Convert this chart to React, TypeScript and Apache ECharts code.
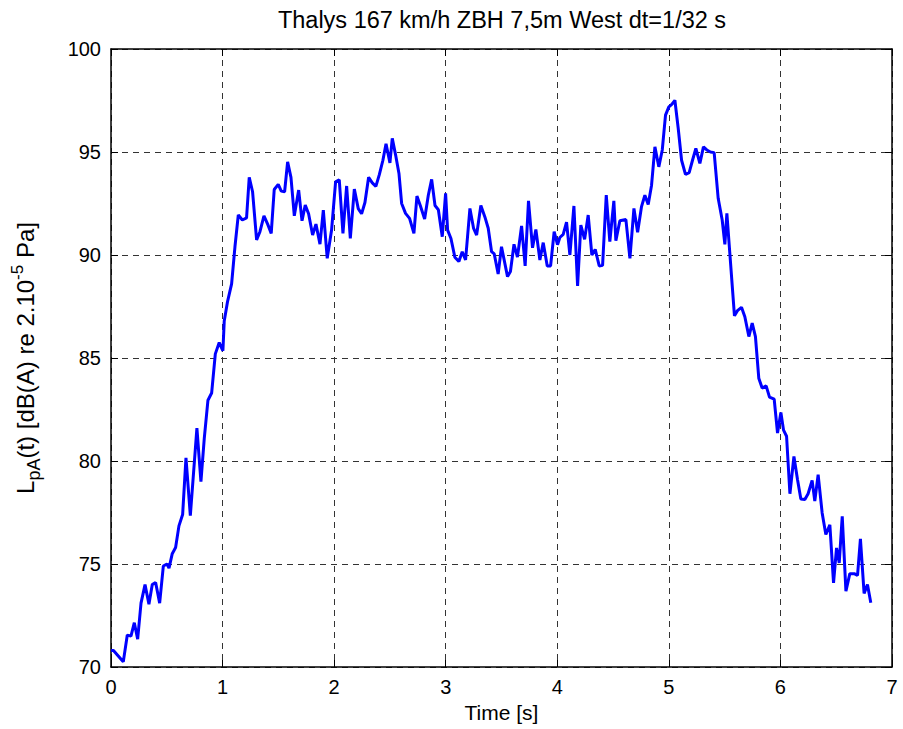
import React, { useEffect, useRef } from "react";
import * as echarts from "echarts";

const chartTitle = "Thalys 167 km/h ZBH 7,5m West dt=1/32 s";
const xName = "Time [s]";
const yNameRich = "{m|L}{s|pA}{m|(t) [dB(A) re 2.10}{p|-5}{m| Pa]}";

// time of each vertex of the trace (s)
const timeS = [
  0.000, 0.022, 0.110, 0.146, 0.179, 0.209, 0.239, 0.269, 0.305, 0.340,
  0.370, 0.400, 0.436, 0.469, 0.502, 0.520, 0.549, 0.579, 0.609, 0.642,
  0.672, 0.711, 0.770, 0.806, 0.836, 0.869, 0.902, 0.935, 0.970, 1.003,
  1.015, 1.045, 1.081, 1.111, 1.141, 1.177, 1.215, 1.239, 1.269, 1.305,
  1.335, 1.371, 1.404, 1.436, 1.463, 1.499, 1.526, 1.556, 1.583, 1.613,
  1.643, 1.682, 1.712, 1.741, 1.771, 1.807, 1.837, 1.873, 1.903, 1.938,
  1.977, 2.013, 2.046, 2.079, 2.112, 2.145, 2.181, 2.216, 2.246, 2.276,
  2.309, 2.342, 2.374, 2.405, 2.437, 2.465, 2.500, 2.521, 2.551, 2.581,
  2.605, 2.640, 2.676, 2.715, 2.742, 2.772, 2.811, 2.844, 2.874, 2.904,
  2.934, 2.969, 2.999, 3.017, 3.047, 3.082, 3.118, 3.148, 3.178, 3.217,
  3.250, 3.277, 3.315, 3.351, 3.381, 3.411, 3.435, 3.470, 3.500, 3.554,
  3.580, 3.612, 3.643, 3.680, 3.712, 3.742, 3.778, 3.808, 3.844, 3.874,
  3.910, 3.940, 3.972, 4.002, 4.023, 4.053, 4.083, 4.113, 4.149, 4.182,
  4.211, 4.245, 4.277, 4.310, 4.340, 4.376, 4.406, 4.439, 4.471, 4.507,
  4.525, 4.561, 4.615, 4.651, 4.687, 4.720, 4.755, 4.785, 4.815, 4.845,
  4.875, 4.910, 4.941, 4.970, 5.000, 5.024, 5.054, 5.084, 5.114, 5.149,
  5.182, 5.212, 5.242, 5.278, 5.310, 5.340, 5.373, 5.406, 5.442, 5.478,
  5.502, 5.520, 5.588, 5.615, 5.651, 5.681, 5.717, 5.747, 5.776, 5.806,
  5.836, 5.872, 5.902, 5.944, 5.974, 6.004, 6.028, 6.055, 6.085, 6.121,
  6.153, 6.183, 6.219, 6.248, 6.284, 6.308, 6.338, 6.374, 6.407, 6.443,
  6.476, 6.503, 6.527, 6.554, 6.587, 6.622, 6.661, 6.691, 6.717, 6.750,
  6.780, 6.810,
];

// LpA(t) in dB(A)
const levelDbA = [
  70.8, 70.8, 70.25, 71.55, 71.5, 72.15, 71.35, 73.1, 74.0, 73.05,
  74.0, 74.1, 73.1, 74.9, 75.0, 74.8, 75.5, 75.8, 76.85, 77.4,
  80.15, 77.35, 81.6, 79.0, 81.1, 82.95, 83.3, 85.2, 85.75, 85.35,
  86.8, 87.75, 88.6, 90.4, 91.95, 91.7, 91.8, 93.77, 93.07, 90.73,
  91.13, 91.9, 91.5, 91.05, 93.18, 93.43, 93.1, 93.07, 94.52, 93.77,
  91.9, 93.15, 91.66, 92.42, 92.0, 90.97, 91.5, 90.53, 92.18, 89.84,
  91.21, 93.55, 93.65, 91.05, 93.35, 90.81, 93.2, 92.25, 92.0, 92.55,
  93.77, 93.5, 93.33, 93.9, 94.6, 95.4, 94.47, 95.66, 94.85, 93.96,
  92.5, 92.02, 91.78, 91.05, 92.86, 92.4, 91.75, 92.9, 93.67, 92.4,
  92.2, 90.89, 92.99, 91.21, 90.8, 89.89, 89.68, 90.16, 89.76, 92.26,
  91.29, 90.97, 92.4, 91.85, 91.3, 90.16, 90.05, 89.08, 90.4, 88.95,
  89.2, 90.52, 89.9, 91.41, 89.47, 92.63, 90.35, 91.24, 89.76, 90.6,
  89.47, 89.47, 91.13, 90.5, 90.85, 91.0, 91.6, 90.0, 92.38, 88.5,
  91.45, 90.76, 91.94, 90.0, 90.27, 89.47, 89.5, 92.91, 90.65, 92.63,
  90.7, 91.66, 91.72, 89.84, 92.26, 91.1, 92.35, 92.9, 92.45, 93.39,
  95.25, 94.28, 95.1, 96.79, 97.19, 97.3, 97.51, 96.14, 94.6, 93.91,
  94.0, 94.6, 95.17, 94.45, 95.25, 95.1, 95.0, 94.97, 92.75, 91.7,
  90.52, 92.02, 87.05, 87.3, 87.46, 87.0, 86.04, 86.69, 86.04, 84.02,
  83.54, 83.65, 83.1, 83.0, 81.36, 82.36, 81.5, 81.2, 78.41, 80.22,
  79.1, 78.16, 78.13, 78.41, 79.06, 78.05, 79.34, 77.48, 76.43, 76.9,
  74.08, 75.78, 75.05, 77.31, 73.68, 74.53, 74.53, 74.45, 76.22, 73.57,
  74.0, 73.12,
];

const xMin = 0, xMax = 7, xStep = 1;
const yMin = 70, yMax = 100, yStep = 5;

export default function App() {
  const ref = useRef<HTMLDivElement>(null);
  useEffect(() => {
    document.body.style.margin = "0";
    const chart = echarts.init(ref.current!, undefined, { renderer: "svg" });
    const font = "'Liberation Sans', Arial, Helvetica, sans-serif";
    const data = timeS.map((t, i) => [t, levelDbA[i]]);
    const frameLine = { onZero: false, lineStyle: { color: "#000", width: 1.5 } };
    const tick = { inside: true, length: 7, lineStyle: { color: "#000", width: 1 } };
    const split = { show: true, lineStyle: { type: [6, 5], color: "#333", width: 1 } };
    chart.setOption({
      animation: false,
      backgroundColor: "#fff",
      textStyle: { fontFamily: font },
      title: {
        text: chartTitle,
        left: 497,
        textAlign: "center",
        top: 3,
        textStyle: { fontSize: 23.5, fontWeight: "normal", color: "#000", fontFamily: font },
      },
      grid: { left: 111, right: 11, top: 49, bottom: 62, outerBoundsMode: "none" },
      xAxis: [
        {
          type: "value", min: xMin, max: xMax, interval: xStep, position: "bottom",
          name: xName, nameLocation: "middle", nameGap: 32,
          nameTextStyle: { fontSize: 21, color: "#000", fontFamily: font },
          axisLine: frameLine, axisTick: tick,
          axisLabel: { fontSize: 20, color: "#000", margin: 10, fontFamily: font },
          splitLine: split,
        },
        {
          type: "value", min: xMin, max: xMax, interval: xStep, position: "top",
          axisLine: frameLine, axisTick: tick, axisLabel: { show: false }, splitLine: { show: false },
        },
      ],
      yAxis: [
        {
          type: "value", min: yMin, max: yMax, interval: yStep, position: "left",
          name: yNameRich, nameLocation: "middle", nameRotate: 90, nameGap: 68,
          nameTextStyle: {
            color: "#000", fontFamily: font,
            rich: {
              m: { fontSize: 24, height: 36, color: "#000", fontFamily: font },
              s: { fontSize: 18, height: 18, verticalAlign: "bottom", color: "#000", fontFamily: font },
              p: { fontSize: 17, height: 21, verticalAlign: "top", color: "#000", fontFamily: font },
            },
          },
          axisLine: frameLine, axisTick: tick,
          axisLabel: { fontSize: 20, color: "#000", margin: 10, fontFamily: font },
          splitLine: split,
        },
        {
          type: "value", min: yMin, max: yMax, interval: yStep, position: "right",
          axisLine: frameLine, axisTick: tick, axisLabel: { show: false }, splitLine: { show: false },
        },
      ],
      series: [
        {
          type: "line", data, xAxisIndex: 0, yAxisIndex: 0,
          symbol: "none", smooth: false,
          lineStyle: { color: "#0000ff", width: 3 },
        },
      ],
    });
    return () => chart.dispose();
  }, []);
  return <div ref={ref} style={{ width: 903, height: 729 }} />;
}
